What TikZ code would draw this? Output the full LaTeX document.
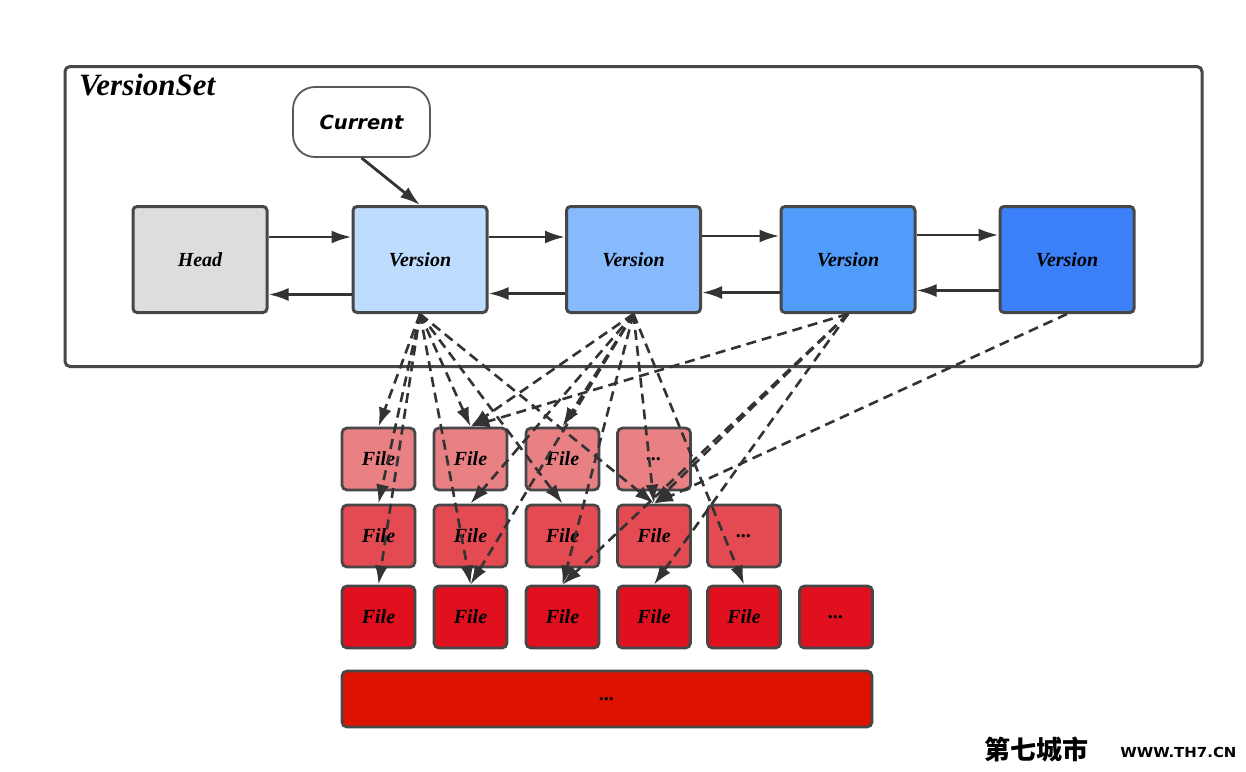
\documentclass[tikz,border=0pt]{standalone}
\usepackage{fontspec}
\setmainfont{Liberation Serif}
\newfontfamily\curfont{DejaVu Sans}
\newfontfamily\cjkfont{Noto Sans CJK SC}
\newfontfamily\wmfont{DejaVu Sans}
\usetikzlibrary{arrows.meta}
\definecolor{boxline}{HTML}{474747}
\definecolor{edgecol}{HTML}{333333}
\definecolor{headfill}{HTML}{DDDDDD}
\definecolor{vfa}{HTML}{BEDCFD}
\definecolor{vfb}{HTML}{86BAFD}
\definecolor{vfc}{HTML}{4F9CFB}
\definecolor{vfd}{HTML}{3B80F8}
\definecolor{rfa}{HTML}{E98084}
\definecolor{rfb}{HTML}{E44A52}
\definecolor{rfc}{HTML}{E0101E}
\definecolor{rfbar}{HTML}{DE1200}
\begin{document}
\begin{tikzpicture}[x=1pt,y=-1pt,
  vbox/.style={draw=boxline, line width=3pt, rounded corners=4pt, inner sep=0pt,
    minimum width=134pt, minimum height=106pt,
    font=\fontsize{20}{24}\selectfont\bfseries\itshape},
  fbox/.style={draw=boxline, line width=2.8pt, rounded corners=5pt, inner sep=0pt,
    minimum width=73pt, minimum height=62pt,
    font=\fontsize{20}{24}\selectfont\bfseries\itshape},
  link/.style={draw=edgecol, line width=2.8pt, -{Latex[length=20pt,width=13pt]}},
  ref/.style={draw=edgecol, line width=2.6pt, dash pattern=on 10pt off 6pt,
    -{Latex[length=19pt,width=13pt]}}]
\useasboundingbox (0,0) rectangle (1246,771);
\fill[white] (0,0) rectangle (1246,771);

% VersionSet container
\node[draw=boxline, line width=3pt, rounded corners=5pt, inner sep=0pt,
  minimum width=1137pt, minimum height=300pt] (vset) at (633.5,216.5) {};
\node[anchor=west, inner sep=0pt, font=\fontsize{31}{34}\selectfont\bfseries\itshape]
  (vsetlabel) at (79,85) {VersionSet};

% Current pointer
\node[draw=boxline!90, line width=1.8pt, rounded corners=22pt, fill=white,
  minimum width=137pt, minimum height=70pt, inner sep=0pt,
  font=\curfont\fontsize{19.5}{22}\selectfont\bfseries\itshape] (cur) at (361.5,122) {Current};

% Versions
\node[vbox, fill=headfill] (h)  at (200,259.5)  {Head};
\node[vbox, fill=vfa]      (v1) at (420,259.5)  {Version};
\node[vbox, fill=vfb]      (v2) at (633.5,259.5){Version};
\node[vbox, fill=vfc]      (v3) at (848,259.5)  {Version};
\node[vbox, fill=vfd]      (v4) at (1067,259.5) {Version};

\draw[link] (cur.south) -- (v1.north);

\foreach \a/\b/\u/\d in {h/v1/22.5/-35, v1/v2/22.5/-34, v2/v3/23.5/-33, v3/v4/24.5/-31}{
  \draw[link] ([yshift=\u pt]\a.east) -- ([yshift=\u pt]\b.west);
  \draw[link] ([yshift=\d pt]\b.west) -- ([yshift=\d pt]\a.east);
}

% Files
\node[fbox, fill=rfa] (r1c1) at (378.5,459) {File};
\node[fbox, fill=rfa] (r1c2) at (470.5,459) {File};
\node[fbox, fill=rfa] (r1c3) at (562.5,459) {File};
\node[fbox, fill=rfa] (r1c4) at (654,459)   {...};

\node[fbox, fill=rfb] (r2c1) at (378.5,536) {File};
\node[fbox, fill=rfb] (r2c2) at (470.5,536) {File};
\node[fbox, fill=rfb] (r2c3) at (562.5,536) {File};
\node[fbox, fill=rfb] (r2c4) at (654,536)   {File};
\node[fbox, fill=rfb] (r2c5) at (744,536)   {...};

\node[fbox, fill=rfc] (r3c1) at (378.5,617) {File};
\node[fbox, fill=rfc] (r3c2) at (470.5,617) {File};
\node[fbox, fill=rfc] (r3c3) at (562.5,617) {File};
\node[fbox, fill=rfc] (r3c4) at (654,617)   {File};
\node[fbox, fill=rfc] (r3c5) at (744,617)   {File};
\node[fbox, fill=rfc] (r3c6) at (836,617)   {...};

\node[fbox, fill=rfbar, minimum width=530pt, minimum height=56pt] (bar) at (607,699) {...};

% Version -> file references
\foreach \v/\f in {v1/r1c1, v1/r2c1, v1/r3c1, v1/r1c2, v1/r3c2, v1/r2c3, v1/r2c4,
                   v2/r1c2, v2/r1c3, v2/r2c2, v2/r3c2, v2/r3c3, v2/r2c4, v2/r3c5,
                   v3/r1c2, v3/r2c4, v3/r3c3, v3/r3c4,
                   v4/r2c4}{
  \draw[ref] (\v.south) -- (\f.north);
}

% watermark
\node[anchor=west, inner sep=0pt, font=\cjkfont\fontsize{26}{28}\selectfont\bfseries] (wm1) at (984,750) {第七城市};
\node[anchor=west, inner sep=0pt, xscale=1.3, yscale=1.2, font=\wmfont\fontsize{11.5}{12}\selectfont\bfseries] (wm2) at (1120,752) {WWW.TH7.CN};
\end{tikzpicture}
\end{document}
